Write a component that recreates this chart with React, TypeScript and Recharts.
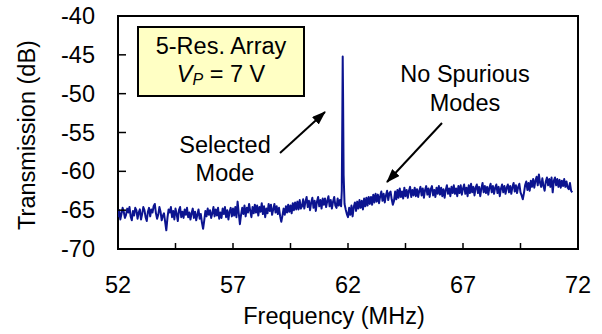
import React from "react";
import { LineChart, Line, XAxis, YAxis, ReferenceArea } from "recharts";

const FREQ_STEP = 0.05;

// Transmission (dB), 52.00 .. 61.70 MHz (0.05 MHz step)
const BEFORE_START = 52.0;
const BEFORE_DB: number[] = [
  -65.9, -65.0, -66.2, -65.5, -64.7, -65.2, -66.0, -65.6, -64.8, -65.3, -64.6, -65.8, -66.3, -65.1, -65.7, -64.7, -65.0, -66.1, -65.3, -64.9,
  -66.2, -65.5, -64.6, -65.0, -65.9, -66.4, -65.2, -64.7, -65.8, -64.9, -65.3, -64.5, -64.2, -65.4, -66.1, -65.6, -64.6, -65.2, -66.3, -65.7,
  -65.4, -66.5, -67.6, -66.0, -64.9, -65.3, -64.6, -65.9, -65.1, -66.2, -64.8, -65.5, -66.4, -65.0, -64.6, -65.9, -65.2, -66.0, -64.9, -65.6,
  -64.7, -65.9, -65.3, -66.2, -65.4, -64.8, -66.0, -65.2, -66.3, -65.6, -64.9, -66.1, -65.5, -66.6, -67.4, -66.3, -65.1, -65.8, -64.8, -65.6,
  -65.0, -66.0, -65.4, -64.6, -65.8, -64.9, -65.7, -64.7, -66.1, -65.3, -66.0, -64.8, -65.5, -64.6, -65.9, -65.0, -66.2, -65.2, -64.7, -65.8,
  -64.8, -65.7, -64.6, -65.9, -63.9, -65.4, -66.8, -65.6, -64.7, -65.5, -64.4, -65.8, -64.7, -65.3, -64.2, -65.1, -65.9, -64.6, -65.4, -64.3,
  -65.3, -64.4, -65.7, -64.6, -65.2, -64.1, -65.5, -64.5, -65.9, -64.8, -65.4, -64.2, -65.1, -64.3, -65.6, -64.9, -64.2, -65.3, -64.5, -65.5,
  -64.7, -65.8, -66.5, -65.7, -64.8, -65.6, -64.5, -65.3, -64.3, -65.2, -64.4, -65.4, -64.1, -65.0, -64.0, -64.9, -63.9, -64.9, -63.7, -64.8,
  -64.5, -63.6, -64.8, -63.9, -63.3, -64.6, -63.8, -65.0, -64.0, -63.4, -64.7, -63.8, -65.1, -63.9, -63.3, -64.5, -63.7, -64.8, -63.5, -64.3,
  -63.5, -64.6, -63.8, -63.2, -64.5, -63.7, -64.8, -63.9, -63.3, -64.4, -64.7, -63.5, -64.4, -63.7, -64.5,
];

// Selected resonance spike
const SPIKE_FREQ = [61.73, 61.755, 61.77, 61.785, 61.81, 61.85];
const SPIKE_DB = [-62.5, -52.0, -45.2, -50.0, -60.5, -64.2];

// Transmission (dB), 61.90 .. 71.75 MHz (0.05 MHz step)
const AFTER_START = 61.9;
const AFTER_DB: number[] = [
  -64.9, -65.5,
  -65.9, -64.7, -65.6, -64.4, -65.8, -64.6, -64.0, -65.1, -63.9, -64.8, -63.7, -64.7, -63.8, -64.9, -63.5, -64.5, -63.4, -64.4, -63.3, -64.2,
  -63.3, -64.3, -63.0, -64.0, -62.9, -63.9, -63.0, -64.1, -63.2, -62.6, -63.8, -62.9, -64.0, -63.1, -62.5, -63.7, -62.8, -62.6, -63.6, -64.3,
  -63.8, -62.6, -63.6, -62.4, -63.4, -62.2, -63.3, -62.6, -63.5, -62.1, -63.2, -62.4, -63.4, -62.5, -62.0, -63.3, -62.4, -63.1, -62.1, -63.2,
  -62.3, -63.3, -62.5, -62.0, -63.1, -62.2, -63.4, -62.4, -61.9, -63.0, -62.2, -63.3, -62.3, -61.9, -63.1, -62.4, -63.3, -62.1, -62.9, -61.9,
  -63.0, -62.1, -63.2, -62.3, -63.4, -62.4, -61.8, -62.9, -62.2, -63.2, -62.0, -62.8, -61.8, -62.9, -62.2, -63.2, -61.9, -62.8, -61.8, -63.0,
  -62.2, -61.7, -62.9, -62.1, -63.2, -61.8, -62.8, -61.6, -62.7, -62.0, -63.1, -62.1, -61.7, -62.8, -62.0, -63.2, -62.2, -61.5, -62.7, -61.9,
  -62.8, -62.0, -63.0, -62.1, -61.6, -62.7, -61.9, -62.9, -62.1, -61.7, -62.8, -62.0, -63.2, -62.2, -61.7, -62.7, -61.9, -62.9, -62.1, -61.7,
  -62.7, -61.9, -62.9, -62.0, -61.5, -62.6, -61.8, -62.8, -62.0, -61.6, -62.7, -63.1, -63.6, -62.8, -61.8, -61.3, -62.4, -61.5, -62.5, -61.2,
  -62.0, -61.0, -62.1, -61.2, -60.7, -61.8, -60.4, -61.5, -62.0, -60.9, -61.9, -62.5, -61.3, -60.8, -61.8, -61.0, -62.0, -60.8, -62.7, -61.2,
  -60.8, -61.8, -61.0, -62.0, -61.1, -62.1, -61.2, -61.9, -61.0, -62.0, -61.3, -62.1, -62.3, -61.5, -62.5, -62.7,
];

const X_TICKS = [52, 54.5, 57, 59.5, 62, 64.5, 67, 69.5, 72];
const X_LABELS = [52, 57, 62, 67, 72];
const Y_TICKS = [-70, -65, -60, -55, -50, -45, -40];

const r3 = (v: number) => Math.round(v * 1000) / 1000;

const data = [
  ...BEFORE_DB.map((db, i) => ({ f: r3(BEFORE_START + i * FREQ_STEP), db })),
  ...SPIKE_FREQ.map((f, i) => ({ f, db: SPIKE_DB[i] })),
  ...AFTER_DB.map((db, i) => ({ f: r3(AFTER_START + i * FREQ_STEP), db })),
];

const FONT = "'Liberation Sans', Arial, sans-serif";
const FS = 23.5;

const XTick = (props: any) => {
  const { x, y, payload } = props;
  const show = X_LABELS.includes(payload.value);
  return (
    <g>
      <line x1={x} x2={x} y1={y} y2={y - 6} stroke="#000" strokeWidth={1.5} />
      {show && (
        <text x={x} y={y + 36} textAnchor="middle" dominantBaseline="central" fontFamily={FONT} fontSize={FS} fill="#000">
          {payload.value}
        </text>
      )}
    </g>
  );
};

const YTick = (props: any) => {
  const { x, y, payload } = props;
  return (
    <g>
      <line x1={x} x2={x + 8} y1={y} y2={y} stroke="#000" strokeWidth={1.5} />
      <text x={x - 23} y={y} textAnchor="end" dominantBaseline="central" fontFamily={FONT} fontSize={FS} fill="#000">
        {payload.value}
      </text>
    </g>
  );
};

export default function App() {
  return (
    <div style={{ position: "absolute", left: 0, top: 0, width: 602, height: 334, background: "#fff" }}>
      <LineChart width={602} height={334} data={data} margin={{ top: 16, right: 24, bottom: 0, left: 0 }}>
        <XAxis
          dataKey="f"
          type="number"
          domain={[52, 72]}
          ticks={X_TICKS}
          interval={0}
          height={85}
          tickSize={0}
          tickMargin={0}
          axisLine={false}
          tickLine={false}
          tick={<XTick />}
          allowDataOverflow
        />
        <YAxis
          type="number"
          domain={[-70, -40]}
          ticks={Y_TICKS}
          interval={0}
          width={118}
          tickSize={0}
          tickMargin={0}
          axisLine={false}
          tickLine={false}
          tick={<YTick />}
          allowDataOverflow
        />
        <Line
          dataKey="db"
          type="linear"
          stroke="#0c1490"
          strokeWidth={2}
          strokeLinejoin="round"
          dot={false}
          isAnimationActive={false}
        />
        <ReferenceArea x1={52} x2={72} y1={-70} y2={-40} fill="none" stroke="#000" strokeWidth={2} ifOverflow="visible" />
      </LineChart>
      <svg width={602} height={334} style={{ position: "absolute", left: 0, top: 0, pointerEvents: "none" }} fontFamily={FONT}>
        <defs>
          <marker id="ah" markerWidth="14" markerHeight="10" refX="13" refY="5" orient="auto" markerUnits="userSpaceOnUse">
            <path d="M0,0 L14,5 L0,10 z" fill="#000" />
          </marker>
        </defs>
        <text x={27} y={135} transform="rotate(-90 27 135)" textAnchor="middle" dominantBaseline="central" fontSize={FS} fill="#000">
          Transmission (dB)
        </text>
        <text x={334} y={316} textAnchor="middle" dominantBaseline="central" fontSize={FS} fill="#000">
          Frequency (MHz)
        </text>
        <rect x={138} y={27} width={166} height={69} fill="#ffffc4" stroke="#000" strokeWidth={2} />
        <text x={221} y={46} textAnchor="middle" dominantBaseline="central" fontSize={FS} fill="#000">
          5-Res. Array
        </text>
        <text x={221} y={74} textAnchor="middle" dominantBaseline="central" fontSize={FS} fill="#000">
          <tspan fontStyle="italic">V</tspan>
          <tspan fontStyle="italic" fontSize={16} dy={5}>P</tspan>
          <tspan dy={-5}> = 7 V</tspan>
        </text>
        <text x={225} y={145} textAnchor="middle" dominantBaseline="central" fontSize={FS} fill="#000">Selected</text>
        <text x={225} y={173} textAnchor="middle" dominantBaseline="central" fontSize={FS} fill="#000">Mode</text>
        <line x1={280} y1={153} x2={325} y2={112} stroke="#000" strokeWidth={2} markerEnd="url(#ah)" />
        <text x={465} y={74} textAnchor="middle" dominantBaseline="central" fontSize={FS} fill="#000">No Spurious</text>
        <text x={465} y={103} textAnchor="middle" dominantBaseline="central" fontSize={FS} fill="#000">Modes</text>
        <line x1={442} y1={123} x2={387} y2={182} stroke="#000" strokeWidth={2} markerEnd="url(#ah)" />
      </svg>
    </div>
  );
}
